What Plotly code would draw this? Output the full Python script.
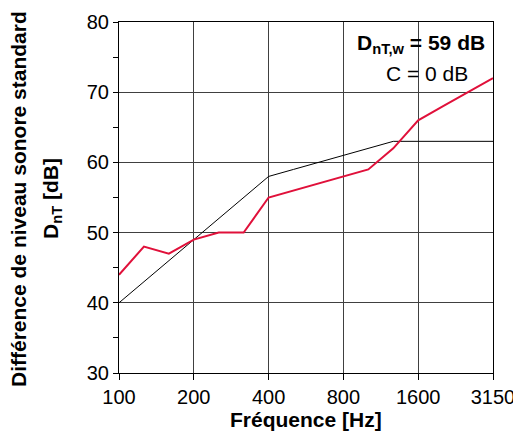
import plotly.graph_objects as go

bands = ["100", "125", "160", "200", "250", "315", "400", "500", "630",
         "800", "1000", "1250", "1600", "2000", "2500", "3150"]
measured = [44, 48, 47, 49, 50, 50, 55, 56, 57, 58, 59, 62, 66, 68, 70, 72]
reference = [40, 43, 46, 49, 52, 55, 58, 59, 60, 61, 62, 63, 63, 63, 63, 63]
tick_labels = ["100", "200", "400", "800", "1600", "3150"]

idx = list(range(len(bands)))
tick_idx = [bands.index(t) for t in tick_labels]

FONT = "Liberation Sans, Arial, sans-serif"
# page body adds an 8px offset; layout computed in screenshot pixels
OFF = 8
W, H = 521 - OFF, 438 - OFF
PL, PR, PT, PB = 119, 493, 22, 373   # plot box in screenshot pixels
L, T = PL - OFF, PT - OFF
R, B = W - (PR - OFF), H - (PB - OFF)
PW, PH = PR - PL, PB - PT

def px(x):
    return (x - PL) / PW

def py(y):
    return (PB - y) / PH

fig = go.Figure()
fig.add_trace(go.Scatter(x=idx, y=reference, mode="lines",
                         line=dict(color="black", width=1), hoverinfo="skip"))
fig.add_trace(go.Scatter(x=idx, y=measured, mode="lines",
                         line=dict(color="#E0103A", width=2), hoverinfo="skip"))

fig.update_layout(
    width=W, height=H,
    margin=dict(l=L, r=R, t=T, b=B, autoexpand=False),
    paper_bgcolor="white", plot_bgcolor="white",
    showlegend=False,
    font=dict(family=FONT, color="black"),
    xaxis=dict(range=[0, 15], tickmode="array", tickvals=tick_idx, ticktext=tick_labels,
               showgrid=True, gridcolor="#404040", gridwidth=1,
               showline=True, linecolor="black", linewidth=1, mirror=True,
               ticks="outside", ticklen=6, tickcolor="black",
               tickfont=dict(size=20), automargin=False,
               zeroline=False),
    yaxis=dict(range=[30, 80], tickvals=[30, 40, 50, 60, 70, 80],
               showgrid=True, gridcolor="#404040", gridwidth=1,
               showline=True, linecolor="black", linewidth=1, mirror=True,
               ticks="outside", ticklen=5, tickcolor="black",
               minor=dict(tickvals=[35, 45, 55, 65, 75], ticks="outside", ticklen=5,
                          tickcolor="black", showgrid=False),
               tickfont=dict(size=20), automargin=False,
               zeroline=False),
    annotations=[
        dict(text="<b>D<sub>nT,w</sub> = 59 dB</b>", xref="paper", yref="paper",
             x=px(487), y=py(44), xanchor="right", yanchor="middle",
             showarrow=False, font=dict(size=21)),
        dict(text="C = 0 dB", xref="paper", yref="paper",
             x=px(470), y=py(73), xanchor="right", yanchor="middle",
             showarrow=False, font=dict(size=21)),
        dict(text="<b>Fréquence [Hz]</b>", xref="paper", yref="paper",
             x=0.5, y=py(419), xanchor="center", yanchor="middle",
             showarrow=False, font=dict(size=21)),
        dict(text="<b>Différence de niveau sonore standard</b>", xref="paper", yref="paper",
             x=px(18), y=py(199), xanchor="center", yanchor="middle", textangle=-90,
             showarrow=False, font=dict(size=21)),
        dict(text="<b>D<sub>nT</sub> [dB]</b>", xref="paper", yref="paper",
             x=px(52), y=py(199), xanchor="center", yanchor="middle", textangle=-90,
             showarrow=False, font=dict(size=21)),
    ],
)

fig.write_html("out.html")
